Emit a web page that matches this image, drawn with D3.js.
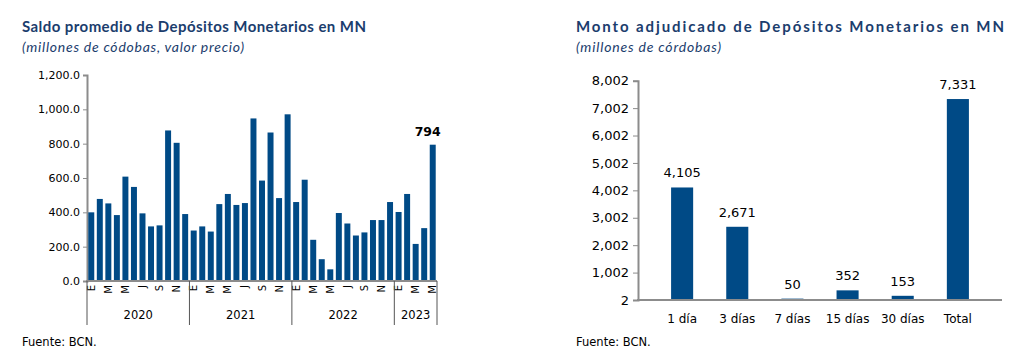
<!DOCTYPE html>
<html>
<head>
<meta charset="utf-8">
<script src="https://d3js.org/d3.v7.min.js"></script>
<style>
    body { margin: 0; background: #fff; }
    svg text { font-family: "DejaVu Sans", Verdana, sans-serif; fill: #000; }
    .title { font-family: "Lato", "Open Sans", sans-serif; font-weight: bold; fill: #1b3d6d; }
    .subtitle { font-family: "Lato", "Open Sans", sans-serif; font-style: italic; fill: #1b3d6d; }
</style>
</head>
<body>
<script>
// left chart: monthly balance Jan-2020 .. May-2023
var years = ["2020", "2021", "2022", "2023"];
var monthLetters = ["E", "F", "M", "A", "M", "J", "J", "A", "S", "O", "N", "D"];
var saldo = [
    400, 478, 452, 384, 608, 548, 394, 318, 324, 877, 805, 390,
    294, 318, 288, 448, 507, 443, 454, 947, 585, 865, 483, 971,
    460, 590, 240, 127, 68, 396, 335, 265, 283, 355, 355, 460,
    402, 507, 216, 308, 794
];
var leftTicks = [0, 200, 400, 600, 800, 1000, 1200];

// right chart: auction amounts
var plazos = ["1 día", "3 días", "7 días", "15 días", "30 días", "Total"];
var monto = [4105, 2671, 50, 352, 153, 7331];
var rightTicks = [2, 1002, 2002, 3002, 4002, 5002, 6002, 7002, 8002];

var barColor = "#004a86";
var axisColor = "#8c8c8c";

var svg = d3.select("body").append("svg")
    .attr("width", 1022)
    .attr("height", 363);

// ---------- left chart ----------
svg.append("text").attr("class", "title")
    .attr("x", 22).attr("y", 32).style("font-size", "15px")
    .attr("textLength", 344).attr("lengthAdjust", "spacing")
    .text("Saldo promedio de Depósitos Monetarios en MN");
svg.append("text").attr("class", "subtitle")
    .attr("x", 22).attr("y", 52).style("font-size", "14px")
    .attr("textLength", 222).attr("lengthAdjust", "spacing")
    .text("(millones de códobas, valor precio)");

var x1 = d3.scaleBand()
    .domain(d3.range(saldo.length))
    .range([87, 437])
    .paddingInner(0.3)
    .paddingOuter(0.15);
var y1 = d3.scaleLinear().domain([0, 1200]).range([281, 75]);

var left = svg.append("g");

left.append("g")
    .attr("transform", "translate(87,0)")
    .call(d3.axisLeft(y1).tickValues(leftTicks).tickSize(4).tickPadding(3).tickFormat(d3.format(",.1f")))
    .call(function(g) {
        g.attr("font-family", null);
        g.select(".domain").attr("stroke", axisColor).attr("stroke-width", 2);
        g.selectAll(".tick line").attr("stroke", axisColor);
        g.selectAll(".tick text").style("font-size", "11px").attr("fill", "#000");
    });

left.selectAll("rect").data(saldo).enter().append("rect")
    .attr("x", function(d, i) { return x1(i); })
    .attr("y", function(d) { return y1(d); })
    .attr("width", x1.bandwidth())
    .attr("height", function(d) { return y1(0) - y1(d); })
    .attr("fill", barColor);

left.append("line")
    .attr("x1", 86).attr("x2", 437).attr("y1", 281).attr("y2", 281)
    .attr("stroke", axisColor).attr("stroke-width", 2);

// month letters, every other month, rotated
saldo.forEach(function(d, i) {
    if ((i % 12) % 2 !== 0) return;
    left.append("text")
        .attr("transform", "translate(" + (x1(i) + x1.bandwidth() / 2 + 3.5) + ",285) rotate(-90)")
        .attr("text-anchor", "end")
        .style("font-size", "10px")
        .text(monthLetters[i % 12]);
});

// year separators and labels
var step = x1.step();
var bounds = [0, 12, 24, 36, saldo.length];
bounds.forEach(function(b) {
    var xx;
    if (b === 0) xx = 87;
    else if (b === saldo.length) xx = 437;
    else xx = x1(b) - step * x1.paddingInner() / 2;
    left.append("line")
        .attr("x1", xx).attr("x2", xx).attr("y1", 281).attr("y2", 325)
        .attr("stroke", "#555").attr("stroke-width", 1);
});
years.forEach(function(yr, k) {
    var a = bounds[k], b = bounds[k + 1];
    var cx = (x1(a) + x1(b - 1) + x1.bandwidth()) / 2;
    left.append("text")
        .attr("x", cx).attr("y", 319)
        .attr("text-anchor", "middle")
        .style("font-size", "11.5px")
        .text(yr);
});

// last value label
var last = saldo.length - 1;
left.append("text")
    .attr("x", x1(last) + x1.bandwidth() / 2 - 5)
    .attr("y", y1(saldo[last]) - 9)
    .attr("text-anchor", "middle")
    .style("font-size", "12.5px").style("font-weight", "bold")
    .text(saldo[last]);

svg.append("text")
    .attr("x", 22).attr("y", 346)
    .style("font-size", "11.5px")
    .text("Fuente: BCN.");

// ---------- right chart ----------
svg.append("text").attr("class", "title")
    .attr("x", 576).attr("y", 32).style("font-size", "15px")
    .attr("textLength", 428).attr("lengthAdjust", "spacing")
    .text("Monto adjudicado de Depósitos Monetarios en MN");
svg.append("text").attr("class", "subtitle")
    .attr("x", 576).attr("y", 52).style("font-size", "14px")
    .attr("textLength", 145).attr("lengthAdjust", "spacing")
    .text("(millones de córdobas)");

var x2 = d3.scaleBand().domain(plazos).range([638, 1002]).padding(0.6);
var y2 = d3.scaleLinear().domain([2, 8002]).range([300, 80.7]);

var right = svg.append("g");

right.append("g")
    .attr("transform", "translate(638,0)")
    .call(d3.axisLeft(y2).tickValues(rightTicks).tickSize(5).tickPadding(4).tickFormat(d3.format(",")))
    .call(function(g) {
        g.attr("font-family", null);
        g.select(".domain").attr("stroke", axisColor).attr("stroke-width", 2);
        g.selectAll(".tick line").attr("stroke", axisColor);
        g.selectAll(".tick text").style("font-size", "13px").attr("fill", "#000");
    });

right.selectAll("rect").data(monto).enter().append("rect")
    .attr("x", function(d, i) { return x2(plazos[i]); })
    .attr("y", function(d) { return y2(d + 2); })
    .attr("width", x2.bandwidth())
    .attr("height", function(d) { return y2(2) - y2(d + 2); })
    .attr("fill", barColor);

right.append("line")
    .attr("x1", 637).attr("x2", 1002).attr("y1", 300).attr("y2", 300)
    .attr("stroke", axisColor).attr("stroke-width", 2);

right.selectAll(".val").data(monto).enter().append("text")
    .attr("class", "val")
    .attr("x", function(d, i) { return x2(plazos[i]) + x2.bandwidth() / 2; })
    .attr("y", function(d) { return y2(d + 2) - 10; })
    .attr("text-anchor", "middle")
    .style("font-size", "13px")
    .text(function(d) { return d3.format(",")(d); });

right.selectAll(".cat").data(plazos).enter().append("text")
    .attr("class", "cat")
    .attr("x", function(d) { return x2(d) + x2.bandwidth() / 2; })
    .attr("y", 323)
    .attr("text-anchor", "middle")
    .style("font-size", "12px")
    .text(function(d) { return d; });

svg.append("text")
    .attr("x", 576).attr("y", 346)
    .style("font-size", "11.5px")
    .text("Fuente: BCN.");
</script>
</body>
</html>
